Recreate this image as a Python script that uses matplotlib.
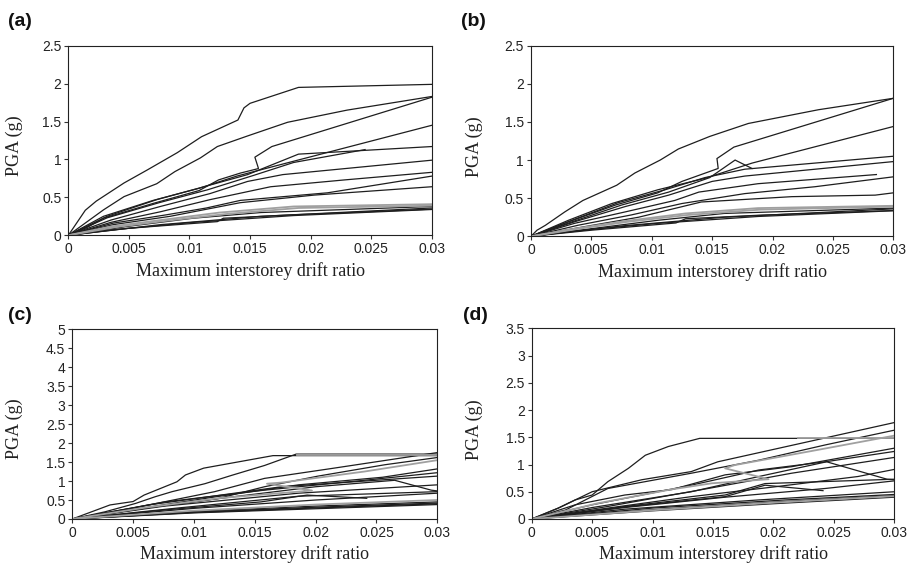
import matplotlib
matplotlib.use('Agg')
import matplotlib.pyplot as plt
from matplotlib import ticker

# Panel (a): IDA curves, (drift ratio, PGA in g)
curves_a = [
    ([0, 0.0014, 0.0023, 0.0046, 0.0065, 0.009, 0.011, 0.014, 0.0145, 0.015, 0.019, 0.03],
     [0, 0.33, 0.45, 0.69, 0.86, 1.09, 1.30, 1.52, 1.68, 1.74, 1.95, 1.99]),
    ([0, 0.0013, 0.0029, 0.0046, 0.0073, 0.0088, 0.0109, 0.0123, 0.0148, 0.0181, 0.023, 0.03],
     [0, 0.15, 0.335, 0.51, 0.68, 0.84, 1.02, 1.17, 1.31, 1.49, 1.65, 1.83]),
    ([0, 0.0015, 0.0029, 0.007, 0.0108, 0.0124, 0.0142, 0.0157, 0.0154, 0.0168, 0.03],
     [0, 0.10, 0.225, 0.42, 0.59, 0.73, 0.82, 0.88, 1.03, 1.17, 1.82]),
    ([0, 0.0029, 0.007, 0.0108, 0.0139, 0.017, 0.03],
     [0, 0.25, 0.46, 0.62, 0.78, 0.91, 1.45]),
    ([0, 0.0032, 0.0073, 0.0112, 0.0148, 0.019, 0.03],
     [0, 0.25, 0.47, 0.64, 0.80, 1.07, 1.17]),
    ([0, 0.0032, 0.0075, 0.0115, 0.0153, 0.0186, 0.0245],
     [0, 0.23, 0.43, 0.60, 0.79, 0.96, 1.13]),
    ([0, 0.0035, 0.0076, 0.0117, 0.0148, 0.0177, 0.03],
     [0, 0.20, 0.38, 0.55, 0.71, 0.80, 0.99]),
    ([0, 0.0035, 0.0076, 0.0117, 0.0167, 0.0228, 0.03],
     [0, 0.17, 0.31, 0.47, 0.64, 0.73, 0.83]),
    ([0, 0.0037, 0.0081, 0.0114, 0.0142, 0.0214, 0.03],
     [0, 0.16, 0.27, 0.36, 0.46, 0.56, 0.78]),
    ([0, 0.0037, 0.0084, 0.0142, 0.0203, 0.03],
     [0, 0.14, 0.25, 0.43, 0.53, 0.64]),
    ([0, 0.0048, 0.0103, 0.0159, 0.03],
     [0, 0.115, 0.225, 0.30, 0.38]),
    ([0, 0.0048, 0.0123, 0.0128, 0.0186, 0.03],
     [0, 0.09, 0.18, 0.225, 0.27, 0.345]),
    ([0, 0.0035, 0.0103, 0.0186, 0.03],
     [0, 0.07, 0.17, 0.26, 0.34]),
    ([0, 0.0076, 0.0159, 0.03],
     [0, 0.14, 0.25, 0.36]),
]
gray_a = [
    ([0, 0.0035, 0.0076, 0.0125, 0.0186, 0.03], [0, 0.115, 0.20, 0.30, 0.38, 0.41]),
    ([0, 0.004, 0.008, 0.013, 0.019, 0.03], [0, 0.11, 0.19, 0.28, 0.36, 0.39]),
]

# Panel (b)
curves_b = [
    ([0, 0.0005, 0.0012, 0.0028, 0.0043, 0.0071, 0.0086, 0.0107, 0.0122, 0.0148, 0.018, 0.0238, 0.03],
     [0, 0.08, 0.145, 0.32, 0.47, 0.67, 0.83, 1.0, 1.145, 1.31, 1.48, 1.66, 1.81]),
    ([0, 0.0031, 0.007, 0.0105, 0.0125, 0.0155, 0.0154, 0.0168, 0.03],
     [0, 0.19, 0.41, 0.57, 0.72, 0.89, 1.02, 1.17, 1.81]),
    ([0, 0.0031, 0.0067, 0.0105, 0.0144, 0.0183, 0.03],
     [0, 0.21, 0.43, 0.61, 0.76, 0.96, 1.44]),
    ([0, 0.0034, 0.0072, 0.0111, 0.0144, 0.0177, 0.03],
     [0, 0.21, 0.44, 0.61, 0.77, 0.88, 1.05]),
    ([0, 0.0036, 0.0078, 0.0114, 0.015, 0.0177, 0.03],
     [0, 0.19, 0.39, 0.54, 0.72, 0.79, 0.98]),
    ([0, 0.0034, 0.0075, 0.0114, 0.0148, 0.0169, 0.0183],
     [0, 0.19, 0.41, 0.58, 0.77, 1.0, 0.89]),
    ([0, 0.0036, 0.0078, 0.0119, 0.0139, 0.0188, 0.0286],
     [0, 0.17, 0.32, 0.47, 0.58, 0.69, 0.81]),
    ([0, 0.0039, 0.0083, 0.0125, 0.0177, 0.0235, 0.03],
     [0, 0.145, 0.28, 0.43, 0.56, 0.65, 0.78]),
    ([0, 0.0042, 0.0089, 0.0141, 0.0216, 0.0285, 0.03],
     [0, 0.12, 0.25, 0.45, 0.52, 0.54, 0.57]),
    ([0, 0.005, 0.0105, 0.016, 0.03],
     [0, 0.10, 0.21, 0.30, 0.37]),
    ([0, 0.005, 0.012, 0.0128, 0.0188, 0.03],
     [0, 0.08, 0.175, 0.23, 0.276, 0.338]),
    ([0, 0.0036, 0.0105, 0.0188, 0.03],
     [0, 0.07, 0.17, 0.26, 0.335]),
    ([0, 0.0078, 0.016, 0.03],
     [0, 0.14, 0.25, 0.36]),
]
gray_b = [
    ([0, 0.0036, 0.0078, 0.0128, 0.0188, 0.03], [0, 0.10, 0.20, 0.30, 0.37, 0.40]),
    ([0, 0.004, 0.008, 0.013, 0.019, 0.03], [0, 0.10, 0.19, 0.28, 0.35, 0.39]),
]

# Panel (c)
curves_c = [
    ([0, 0.0031, 0.005, 0.0059, 0.0086, 0.0093, 0.0108, 0.0165, 0.03],
     [0, 0.37, 0.46, 0.63, 0.98, 1.16, 1.34, 1.67, 1.67]),
    ([0, 0.0027, 0.0052, 0.0068, 0.0082, 0.0109, 0.0131, 0.0158, 0.0184, 0.03],
     [0, 0.19, 0.41, 0.585, 0.72, 0.93, 1.15, 1.41, 1.71, 1.71]),
    ([0, 0.0049, 0.0117, 0.0158, 0.0213, 0.03],
     [0, 0.28, 0.72, 1.07, 1.33, 1.75]),
    ([0, 0.0063, 0.012, 0.0158, 0.0202, 0.0257, 0.03],
     [0, 0.30, 0.54, 0.85, 1.13, 1.43, 1.62]),
    ([0, 0.0063, 0.0131, 0.02, 0.0265, 0.0295, 0.03],
     [0, 0.30, 0.58, 0.85, 1.02, 0.76, 0.74]),
    ([0, 0.0052, 0.0117, 0.0186, 0.0255, 0.03],
     [0, 0.26, 0.58, 0.90, 1.10, 1.32]),
    ([0, 0.0076, 0.0158, 0.024, 0.03],
     [0, 0.45, 0.76, 1.02, 1.22]),
    ([0, 0.0063, 0.0172, 0.03],
     [0, 0.37, 0.85, 1.13]),
    ([0, 0.0076, 0.0186, 0.03],
     [0, 0.34, 0.68, 0.90]),
    ([0, 0.009, 0.0186, 0.03],
     [0, 0.30, 0.60, 0.72]),
    ([0, 0.008, 0.0155, 0.0193, 0.0242],
     [0, 0.25, 0.45, 0.63, 0.545]),
    ([0, 0.01, 0.02, 0.03], [0, 0.28, 0.50, 0.68]),
    ([0, 0.01, 0.02, 0.03], [0, 0.20, 0.34, 0.45]),
    ([0, 0.01, 0.02, 0.03], [0, 0.18, 0.31, 0.42]),
    ([0, 0.01, 0.02, 0.03], [0, 0.17, 0.29, 0.40]),
    ([0, 0.01, 0.02, 0.03], [0, 0.16, 0.27, 0.38]),
]
gray_c = [
    ([0, 0.006, 0.0121, 0.0197, 0.016, 0.0172, 0.024, 0.03],
     [0, 0.30, 0.55, 0.75, 0.93, 0.96, 1.25, 1.55]),
    ([0, 0.01, 0.02, 0.03], [0, 0.22, 0.38, 0.50]),
    ([0.0185, 0.03], [1.69, 1.69]),
]

# Panel (d)
curves_d = [
    ([0, 0.0022, 0.0036, 0.005, 0.0063, 0.008, 0.0094, 0.0113, 0.0139, 0.03],
     [0, 0.20, 0.35, 0.44, 0.685, 0.93, 1.17, 1.33, 1.48, 1.48]),
    ([0, 0.0022, 0.005, 0.0091, 0.0132, 0.0154, 0.03],
     [0, 0.20, 0.50, 0.72, 0.87, 1.05, 1.77]),
    ([0, 0.0028, 0.0063, 0.0132, 0.0188, 0.0243, 0.03],
     [0, 0.165, 0.56, 0.84, 1.08, 1.36, 1.63]),
    ([0, 0.0036, 0.0077, 0.0116, 0.016, 0.0215, 0.03],
     [0, 0.26, 0.44, 0.54, 0.81, 0.96, 1.30]),
    ([0, 0.005, 0.0132, 0.0188, 0.0243, 0.03],
     [0, 0.26, 0.62, 0.90, 1.05, 1.24]),
    ([0, 0.0063, 0.0146, 0.0215, 0.03],
     [0, 0.23, 0.56, 0.84, 1.13]),
    ([0, 0.005, 0.0132, 0.0188, 0.0244, 0.0294, 0.03],
     [0, 0.21, 0.50, 0.78, 1.05, 0.73, 0.72]),
    ([0, 0.0063, 0.0132, 0.0201, 0.027, 0.03],
     [0, 0.20, 0.41, 0.59, 0.78, 0.91]),
    ([0, 0.0077, 0.016, 0.0193, 0.03],
     [0, 0.23, 0.44, 0.65, 0.73]),
    ([0, 0.0077, 0.016, 0.0193, 0.0241],
     [0, 0.22, 0.41, 0.62, 0.52]),
    ([0, 0.0077, 0.016, 0.0243, 0.03],
     [0, 0.21, 0.40, 0.56, 0.70]),
    ([0, 0.0077, 0.0188, 0.03], [0, 0.18, 0.35, 0.50]),
    ([0, 0.01, 0.021, 0.03], [0, 0.20, 0.35, 0.45]),
    ([0, 0.01, 0.02, 0.03], [0, 0.17, 0.31, 0.43]),
    ([0, 0.01, 0.02, 0.03], [0, 0.15, 0.28, 0.40]),
]
gray_d = [
    ([0, 0.0055, 0.0116, 0.0149, 0.0196, 0.016, 0.0168, 0.0237, 0.03],
     [0, 0.29, 0.545, 0.655, 0.73, 0.93, 0.99, 1.27, 1.53]),
    ([0, 0.01, 0.02, 0.03], [0, 0.16, 0.30, 0.42]),
    ([0.022, 0.03], [1.48, 1.48]),
]

panel_labels = ['(a)', '(b)', '(c)', '(d)']
y_max = [2.5, 2.5, 5, 3.5]
x_max = 0.03

# axes boxes in figure fractions (left, bottom, width, height)
boxes = [
    (0.0747, 0.5865, 0.3971, 0.3332),
    (0.5803, 0.5847, 0.3960, 0.3350),
    (0.0790, 0.0879, 0.3989, 0.3334),
    (0.5811, 0.0879, 0.3963, 0.3351),
]
label_xy = [(8, 21), (461, 21), (8, 316), (463, 316)]
ylabel_x = [-0.125, -0.132, -0.134, -0.133]
ylabel_y = [0.47, 0.47, 0.474, 0.467]

all_curves = [curves_a, curves_b, curves_c, curves_d]
all_gray = [gray_a, gray_b, gray_c, gray_d]

fig = plt.figure(figsize=(9.15, 5.69), dpi=100)
W, H = 915, 569

for i in range(4):
    ax = fig.add_axes(boxes[i])
    for xs, ys in all_curves[i]:
        ax.plot(xs, ys, color='#1e1e1e', lw=0.9, solid_joinstyle='miter')
    for xs, ys in all_gray[i]:
        ax.plot(xs, ys, color='#a0a0a0', lw=1.3)

    ax.set_xlim(0, x_max)
    ax.set_ylim(0, y_max[i])
    ax.xaxis.set_major_locator(ticker.MultipleLocator(0.005))
    ax.yaxis.set_major_locator(ticker.MultipleLocator(0.5))
    fmt = ticker.FuncFormatter(lambda v, _: f'{v:g}')
    ax.xaxis.set_major_formatter(fmt)
    ax.yaxis.set_major_formatter(fmt)
    ax.tick_params(direction='out', length=3, width=0.8, color='#333333',
                   labelsize=10, pad=2, labelcolor='#222222')
    for lab in ax.get_xticklabels() + ax.get_yticklabels():
        lab.set_family('Liberation Sans')
    for sp in ax.spines.values():
        sp.set_linewidth(0.8)
        sp.set_color('#222222')

    ax.set_xlabel('Maximum interstorey drift ratio', family='Liberation Serif',
                  fontsize=13, labelpad=4, color='#222222')
    ax.set_ylabel('PGA (g)', family='Liberation Serif', fontsize=13, color='#222222')
    ax.yaxis.set_label_coords(ylabel_x[i], ylabel_y[i])

    lx, ly = label_xy[i]
    fig.text(lx / W, 1 - ly / H, panel_labels[i], family='Liberation Sans',
             fontweight='bold', fontsize=14, ha='left', va='center', color='#111111')

fig.savefig('out.png', dpi=100)
